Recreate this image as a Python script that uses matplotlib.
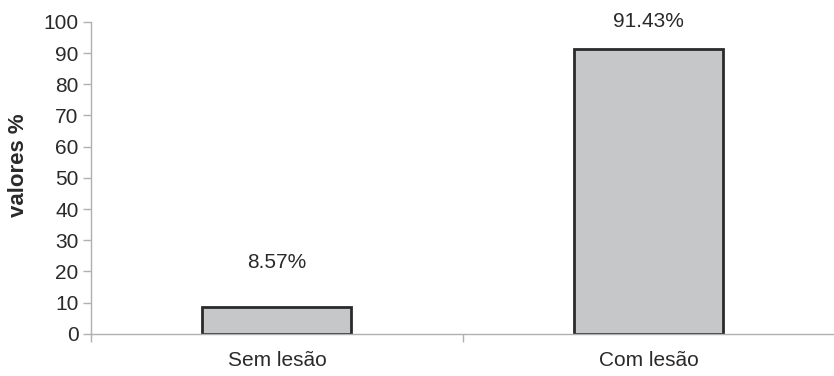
import numpy as np
import matplotlib.pyplot as plt

plt.rcParams['font.family'] = ['Liberation Sans', 'DejaVu Sans']

categorias = ['Sem lesão', 'Com lesão']
valores = [8.57, 91.43]
rotulos = ['8.57%', '91.43%']
label_y = [23, 100]

fig = plt.figure(figsize=(8.34, 3.76), dpi=100)
ax = fig.add_axes([0.109, 0.112, 0.892, 0.830])

x = np.arange(len(categorias))
ax.bar(x, valores, width=0.40, color='#c6c7c9', edgecolor='#2a2a2a', linewidth=2, zorder=3)

for xi, txt, ly in zip(x, rotulos, label_y):
    ax.text(xi, ly, txt, ha='center', va='center', fontsize=15, color='#2a2a2a')

ax.set_xlim(-0.5, 1.5)
ax.set_ylim(0, 100)
ax.set_yticks(range(0, 101, 10))
ax.tick_params(axis='y', labelsize=15, colors='#b0b0b0', labelcolor='#2a2a2a', length=6, width=1, pad=3)
ax.set_xticks(x)
ax.set_xticklabels(categorias, fontsize=15, color='#2a2a2a')
ax.tick_params(axis='x', length=0, pad=12)
ax.set_xticks([-0.5, 0.5, 1.5], minor=True)
ax.tick_params(axis='x', which='minor', length=6, colors='#b0b0b0', width=1)

for s in ['top', 'right']:
    ax.spines[s].set_visible(False)
for s in ['left', 'bottom']:
    ax.spines[s].set_color('#b0b0b0')
    ax.spines[s].set_linewidth(1)
ax.spines['bottom'].set_zorder(4)

ax.set_ylabel('valores %', fontsize=16, fontweight='bold', color='#2a2a2a')
ax.yaxis.set_label_coords(-0.083, 0.54)

fig.savefig('out.png', dpi=100)
